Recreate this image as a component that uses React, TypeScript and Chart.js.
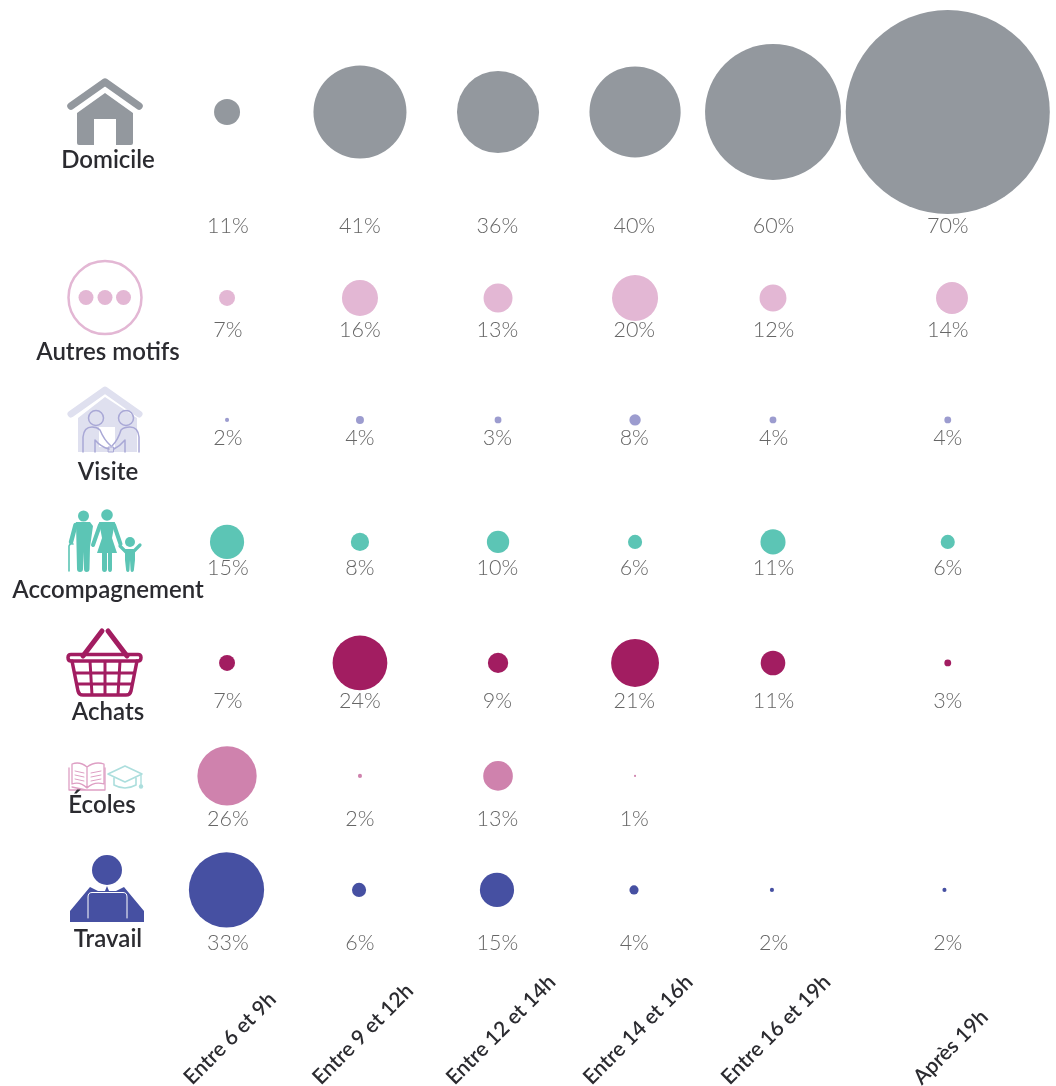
import React, { useEffect, useRef } from "react";
import { Chart, registerables } from "chart.js";

Chart.register(...registerables);

const timeSlots = ["Entre 6 et 9h", "Entre 9 et 12h", "Entre 12 et 14h", "Entre 14 et 16h", "Entre 16 et 19h", "Après 19h"];
const slotAxis = [1.72, 2.727, 3.773, 4.811, 5.856, 7.18];
const autresSlots = [1.72, 2.727, 3.773, 4.811, 5.856, 7.212];
const travailSlots = [1.716, 2.72, 3.765, 4.803, 5.848, 7.155];
const labelSlots = [1.727, 2.727, 3.768, 4.805, 5.86, 7.18];
const motifs = ["Domicile", "Autres motifs", "Visite", "Accompagnement", "Achats", "Écoles", "Travail"];
const motifAxis = [0.928, 2.469, 3.48, 4.491, 5.494, 6.43, 7.375];

const domicileLabels = ["11%", "41%", "36%", "40%", "60%", "70%"];
const autresLabels = ["7%", "16%", "13%", "20%", "12%", "14%"];
const visiteLabels = ["2%", "4%", "3%", "8%", "4%", "4%"];
const accompLabels = ["15%", "8%", "10%", "6%", "11%", "6%"];
const achatsLabels = ["7%", "24%", "9%", "21%", "11%", "3%"];
const ecolesLabels = ["26%", "2%", "13%", "1%", null, null];
const travailLabels = ["33%", "6%", "15%", "4%", "2%", "2%"];

const domicileValues = [11.4, 40.8, 36, 40, 59.6, 89.5];
const autresValues = [7, 15.8, 12.7, 20.2, 11.8, 14];
const visiteValues = [1.8, 3.5, 3, 5, 3, 3];
const accompValues = [15, 8, 9.8, 6.2, 11, 6.2];
const achatsValues = [7, 24, 8.9, 21, 10.8, 3];
const ecolesValues = [26, 1.8, 13, 0.9, null, null];
const travailValues = [33, 6.2, 15, 4, 1.8, 1.8];

const valueRows = [domicileValues, autresValues, visiteValues, accompValues, achatsValues, ecolesValues, travailValues];
const labelRows = [domicileLabels, autresLabels, visiteLabels, accompLabels, achatsLabels, ecolesLabels, travailLabels];
const slotRows = [slotAxis, autresSlots, slotAxis, slotAxis, slotAxis, slotAxis, travailSlots];

const colors = ["#93989E", "#E3B7D4", "#9C9CCF", "#5CC5B5", "#A21D61", "#CF82AD", "#4650A2"];
const RADIUS_PER_POINT = 1.14;
const pctOffset = [114, 32, 18, 26, 38, 43, 53];
const nameOffset = [48, 55, 53, 49, 50, 30, 50];
const nameShift = [0, 0, 0, 0, 0, -6, 0];

type C = CanvasRenderingContext2D;
const poly = (c: C, d: string, color: string) => { c.fillStyle = color; c.fill(new Path2D(d)); };
const line = (c: C, d: string, color: string, w: number, cap: CanvasLineCap = "round") => {
  c.strokeStyle = color; c.lineWidth = w; c.lineCap = cap; c.lineJoin = "round"; c.stroke(new Path2D(d));
};
const disc = (c: C, x: number, y: number, r: number, color: string) => {
  c.fillStyle = color; c.beginPath(); c.arc(x, y, r, 0, Math.PI * 2); c.fill();
};

// icons are drawn in page pixels, from their own top-left artwork
const icons: ((c: C) => void)[] = [
  (c) => {
    const col = colors[0];
    line(c, "M71 106 L105 82 L139 106", col, 7.5);
    poly(c, "M105 93 L77 113 L77 143 Q77 145 79 145 L94 145 L94 119 L116 119 L116 145 L131 145 Q133 145 133 143 L133 113 Z", col);
  },
  (c) => {
    const col = colors[1];
    c.strokeStyle = col; c.lineWidth = 2.5; c.beginPath(); c.arc(105, 297.5, 36.5, 0, Math.PI * 2); c.stroke();
    disc(c, 86, 297.5, 7.5, col); disc(c, 105, 297.5, 7.5, col); disc(c, 123.5, 297.5, 7.5, col);
  },
  (c) => {
    const pale = "#DFE0EF", ink = "#A9A8D6";
    line(c, "M71 414 L105 390 L139 414", pale, 7);
    poly(c, "M105 397 L78 418 L78 452 L137 452 L137 418 Z", pale);
    poly(c, "M99 427 L115 427 L115 447 L99 447 Z", "#FFFFFF");
    const w = 1.5;
    c.strokeStyle = ink; c.lineWidth = w;
    c.beginPath(); c.arc(96, 418, 7.5, 0, Math.PI * 2); c.stroke();
    c.beginPath(); c.arc(126, 418, 7.5, 0, Math.PI * 2); c.stroke();
    line(c, "M83 452 L83 437 Q84 427 92 427 Q97 427 100 430 Q104 440 111 446", ink, w);
    line(c, "M95 452 L95 440 Q101 447 109 449", ink, w);
    line(c, "M139 452 L139 437 Q138 427 130 427 Q124 427 121 430 Q118 440 112 446", ink, w);
    line(c, "M125 452 L125 440 Q120 446 114 449", ink, w);
    c.lineWidth = 1; c.strokeRect(108.5, 447, 5, 5);
  },
  (c) => {
    const col = colors[3];
    disc(c, 83.5, 516, 5.5, col); disc(c, 107, 515, 5.8, col); disc(c, 130, 542, 5, col);
    poly(c, "M76 522 L90 522 L93 526 L90 547 L89.5 569 Q89.5 572 86.5 572 Q84 572 84 569 L83.5 552 L83 569 Q83 572 80 572 Q77 572 77 569 Z", col);
    line(c, "M75.5 525 L71 542", col, 4.5);
    line(c, "M69 571 L69 546 Q70 543 73 544", col, 1.6);
    poly(c, "M99 522 L115 522 L112 538 L117 553 L97 553 L102 538 Z", col);
    poly(c, "M102 553 L107 553 L107 569 Q107 572 104.5 572 Q102 572 102 569 Z M108 553 L112 553 L112 569 Q112 572 110 572 Q108 572 108 569 Z", col);
    line(c, "M100 525 L93 545", col, 4);
    line(c, "M114 525 L120.5 544", col, 4);
    poly(c, "M125 549 L135 549 L135 560 L134 569 Q134 572 132 572 Q130.5 572 130.5 569 L130 560 L129.5 569 Q129.5 572 128 572 Q126 572 126 569 L125 560 Z", col);
    line(c, "M126 552 L120 546", col, 3.2);
    line(c, "M134 551 L140 545", col, 3.2);
  },
  (c) => {
    const col = colors[4];
    line(c, "M83 656 L102 631 M127 656 L108 631", col, 5);
    line(c, "M71 654.5 L138 654.5 Q141 654.5 141 657.5 Q141 661 138 661 L71 661 Q68 661 68 657.5 Q68 654.5 71 654.5 Z", col, 3.5);
    line(c, "M72 661 L78 691 Q79 695 83 695 L126 695 Q130 695 131 691 L137 661", col, 3.5);
    line(c, "M75 673 L134 673 M77 684 L132 684 M90 661 L92 695 M105 661 L105 695 M120 661 L118 695", col, 3, "butt");
  },
  (c) => {
    const book = "#DE9FC4", cap = "#ACDEDD";
    line(c, "M72 764 L72 784 Q80 781 87 788 Q94 781 104 784 L104 764 Q95 761 87 767 Q80 761 72 764 Z M87 767 L87 788", book, 1.3);
    line(c, "M69 768 L69 790 L105 790 L105 768 M72 787 L86 790", book, 1.3);
    line(c, "M75 771 L84 773 M75 775 L84 777 M75 779 L84 781 M91 773 L101 771 M91 777 L101 775 M91 781 L101 779", book, 1);
    line(c, "M108 774 L125 766 L142 774 L125 782 Z", cap, 1.6);
    line(c, "M114 778 L114 785 Q125 791 136 785 L136 778", cap, 1.6);
    line(c, "M141 775 L141 785", cap, 1.4);
    disc(c, 141, 786.5, 2.2, cap);
  },
  (c) => {
    const col = colors[6];
    disc(c, 107, 870, 15, col);
    poly(c, "M90 887 L98 891 L116 891 L124 887 L144 911 L144 922 L70 922 L70 911 Z", col);
    poly(c, "M105 891 L107 886 L109 891 Z", col);
    line(c, "M88 918 L88 897 Q88 892.5 92 892.5 L123 892.5 Q127 892.5 127 897 L127 918", "#FFFFFF", 1);
  },
];

const decorations = {
  id: "decorations",
  afterDatasetsDraw(chart: any) {
    const c: C = chart.ctx;
    const x = chart.scales.x, y = chart.scales.y;
    c.save();
    icons.forEach((draw) => { c.save(); draw(c); c.restore(); });

    c.fillStyle = "#666666";
    c.font = '300 21.5px Lato';
    c.textAlign = "center";
    c.textBaseline = "middle";
    labelRows.forEach((row, r) => {
      const py = y.getPixelForValue(motifAxis[r]) + pctOffset[r];
      row.forEach((t, i) => { if (t) c.fillText(t, x.getPixelForValue(labelSlots[i]), py); });
    });

    c.fillStyle = "#2B2B30";
    c.font = '600 24px Lato';
    motifs.forEach((m, r) => {
      c.fillText(m, 108 + nameShift[r], y.getPixelForValue(motifAxis[r]) + nameOffset[r] - (r === 0 ? 0 : 1));
    });

    c.font = '600 21px Lato';
    c.textAlign = "left";
    timeSlots.forEach((t, i) => {
      const w = c.measureText(t).width;
      const cx = x.getPixelForValue(slotAxis[i]) + 3;
      c.save();
      c.translate(cx - (w * Math.SQRT1_2) / 2, 1081);
      c.rotate(-Math.PI / 4);
      c.fillText(t, 0, 0);
      c.restore();
    });
    c.restore();
  },
};

export default function App() {
  const ref = useRef<HTMLCanvasElement>(null);
  useEffect(() => {
    const chart = new Chart(ref.current!, {
      type: "bubble",
      data: {
        datasets: motifs.map((m, r) => ({
          label: m,
          backgroundColor: colors[r],
          borderWidth: 0,
          clip: false,
          data: valueRows[r].flatMap((v, i) =>
            v == null ? [] : [{ x: slotRows[r][i], y: motifAxis[r], r: v * RADIUS_PER_POINT }]
          ),
        })),
      },
      options: {
        animation: false,
        responsive: false,
        layout: { padding: 0, autoPadding: false },
        plugins: { legend: { display: false }, tooltip: { enabled: false } },
        scales: {
          x: { type: "linear", min: 0, max: 8, display: false },
          y: { type: "linear", min: 0, max: 9, reverse: true, display: false },
        },
      },
      plugins: [decorations],
    } as any);
    return () => chart.destroy();
  }, []);
  return (
    <div style={{ position: "absolute", left: 0, top: 0, width: 1056, height: 1086, background: "#fff" }}>
      <canvas ref={ref} width={1056} height={1086} style={{ display: "block" }} />
    </div>
  );
}
